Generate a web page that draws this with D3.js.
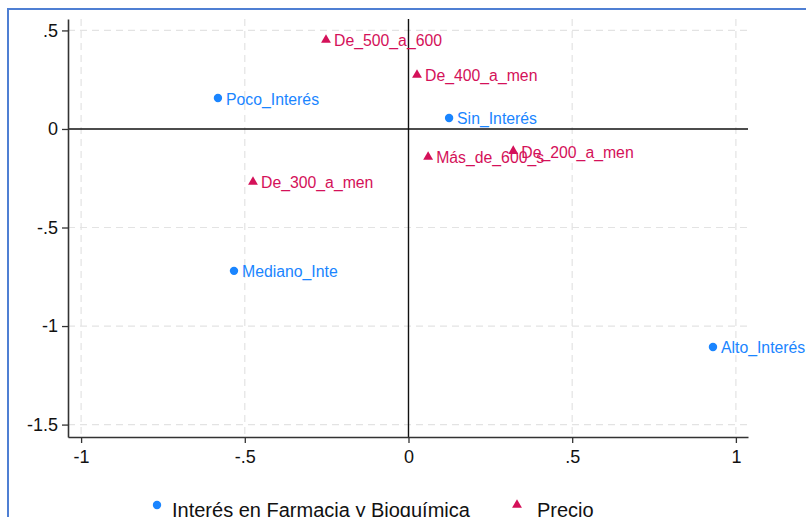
<!DOCTYPE html>
<html>
<head>
<meta charset="utf-8">
<script src="https://cdn.jsdelivr.net/npm/d3@7"></script>
<style>
  body { margin: 0; background: #fff; }
  svg { display: block; font-family: "Liberation Sans", Arial, Helvetica, sans-serif; }
</style>
</head>
<body>
<svg id="chart" width="806" height="517"></svg>
<script>
// Interés en Farmacia y Bioquímica (row categories)
var interesLabels = ["Poco_Interés", "Sin_Interés", "Mediano_Inte", "Alto_Interés"];
var interesX = [-0.582, 0.124, -0.533, 0.930];
var interesY = [0.157, 0.056, -0.720, -1.106];

// Precio (column categories)
var precioLabels = ["De_500_a_600", "De_400_a_men", "Más_de_600_s", "De_200_a_men", "De_300_a_men"];
var precioX = [-0.252, 0.026, 0.060, 0.320, -0.475];
var precioY = [0.452, 0.274, -0.142, -0.112, -0.269];

var xTicks = [-1, -0.5, 0, 0.5, 1];
var yTicks = [0.5, 0, -0.5, -1, -1.5];
var legendNames = ["Interés en Farmacia y Bioquímica", "Precio"];

var blue = "#1a85ff",
    red = "#d41159";

var margin = {top: 19, right: 58, bottom: 80, left: 68},
    width = 806 - margin.left - margin.right,
    height = 517 - margin.top - margin.bottom;

var svg = d3.select("#chart");

// outer frame
svg.append("rect")
    .attr("x", 8).attr("y", 9)
    .attr("width", 820).attr("height", 540)
    .attr("fill", "none")
    .attr("stroke", "#4f7fd3")
    .attr("stroke-width", 2);

var x = d3.scaleLinear().domain([-1.04, 1.037]).range([0, width]);
var y = d3.scaleLinear().domain([0.558, -1.563]).range([0, height]);

var g = svg.append("g")
    .attr("transform", "translate(" + margin.left + "," + margin.top + ")");

// dashed grid
g.selectAll("line.vgrid")
    .data(xTicks.filter(function(d) { return d !== 0; }))
    .enter().append("line")
    .attr("class", "vgrid")
    .attr("x1", function(d) { return x(d); })
    .attr("x2", function(d) { return x(d); })
    .attr("y1", 0).attr("y2", height)
    .attr("stroke", "#e3e3e3")
    .attr("stroke-width", 1.2)
    .attr("stroke-dasharray", "7,5");

g.selectAll("line.hgrid")
    .data(yTicks.filter(function(d) { return d !== 0; }))
    .enter().append("line")
    .attr("class", "hgrid")
    .attr("y1", function(d) { return y(d); })
    .attr("y2", function(d) { return y(d); })
    .attr("x1", 0).attr("x2", width)
    .attr("stroke", "#e3e3e3")
    .attr("stroke-width", 1.2)
    .attr("stroke-dasharray", "7,5");

// zero reference lines
g.append("line")
    .attr("x1", x(0)).attr("x2", x(0))
    .attr("y1", 0).attr("y2", height)
    .attr("stroke", "#111").attr("stroke-width", 1.4);
g.append("line")
    .attr("x1", 0).attr("x2", width)
    .attr("y1", y(0)).attr("y2", y(0))
    .attr("stroke", "#111").attr("stroke-width", 1.4);

// Stata style tick labels: -.5 instead of -0.5, plain hyphen
var fmt = function(d) {
    return String(d).replace(/^(-?)0\./, "$1.");
};

// axes
var xAxis = g.append("g")
    .attr("transform", "translate(0," + height + ")")
    .call(d3.axisBottom(x).tickValues(xTicks).tickFormat(fmt).tickSize(6).tickPadding(6).tickSizeOuter(0));
var yAxis = g.append("g")
    .call(d3.axisLeft(y).tickValues(yTicks).tickFormat(fmt).tickSize(6).tickPadding(4).tickSizeOuter(0));

[xAxis, yAxis].forEach(function(a) {
    a.select(".domain").attr("stroke", "#333").attr("stroke-width", 1.6);
    a.selectAll(".tick line").attr("stroke", "#333").attr("stroke-width", 1.3);
    a.selectAll(".tick text").attr("fill", "#111").style("font-size", "18px");
});
xAxis.selectAll(".tick text").attr("dy", "0.75em");

var triangle = d3.symbol().type(d3.symbolTriangle).size(42);

// row points
var rows = g.selectAll("g.row")
    .data(interesLabels)
    .enter().append("g")
    .attr("class", "row")
    .attr("transform", function(d, i) {
        return "translate(" + x(interesX[i]) + "," + y(interesY[i]) + ")";
    });
rows.append("circle").attr("r", 4.2).attr("fill", blue);
rows.append("text")
    .attr("x", 8).attr("y", 6.5)
    .attr("fill", blue)
    .style("font-size", "15.8px")
    .text(function(d) { return d; });

// column points
var cols = g.selectAll("g.col")
    .data(precioLabels)
    .enter().append("g")
    .attr("class", "col")
    .attr("transform", function(d, i) {
        return "translate(" + x(precioX[i]) + "," + y(precioY[i]) + ")";
    });
cols.append("path").attr("d", triangle).attr("fill", red);
cols.append("text")
    .attr("x", 8).attr("y", 6.5)
    .attr("fill", red)
    .style("font-size", "15.8px")
    .text(function(d) { return d; });

// legend
var legend = svg.append("g");
legend.append("circle")
    .attr("cx", 157).attr("cy", 505).attr("r", 4.2).attr("fill", blue);
legend.append("text")
    .attr("x", 172).attr("y", 517)
    .style("font-size", "20px").attr("fill", "#111")
    .text(legendNames[0]);
legend.append("path")
    .attr("d", triangle)
    .attr("transform", "translate(517,505)")
    .attr("fill", red);
legend.append("text")
    .attr("x", 537).attr("y", 517)
    .style("font-size", "20px").attr("fill", "#111")
    .text(legendNames[1]);
</script>
</body>
</html>
